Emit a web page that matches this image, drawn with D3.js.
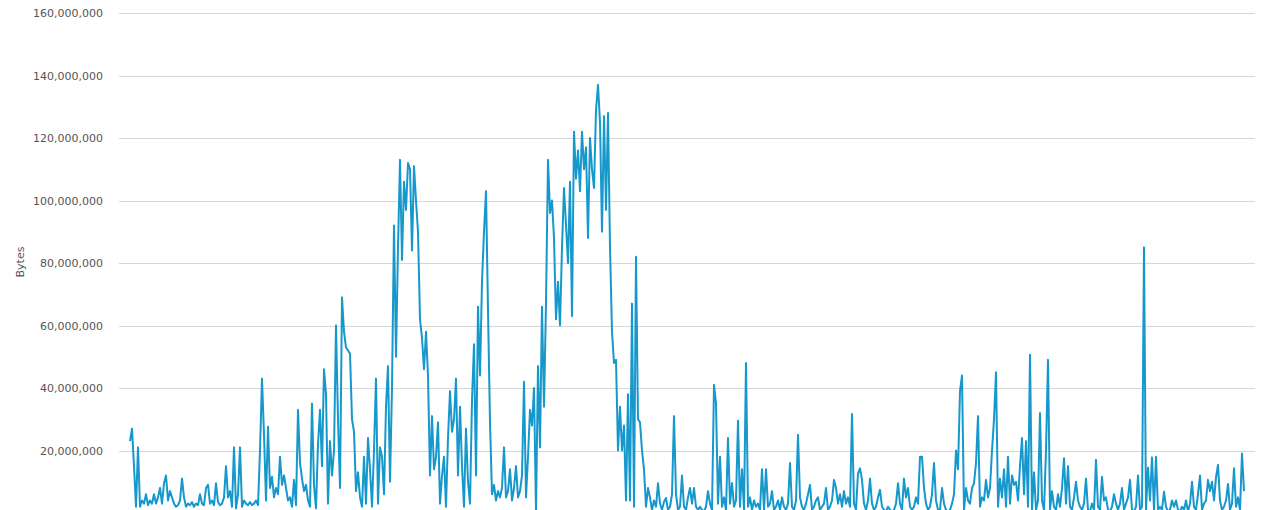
<!DOCTYPE html>
<html>
<head>
<meta charset="utf-8">
<script src="https://cdn.jsdelivr.net/npm/d3@7"></script>
<style>
  html, body { margin: 0; padding: 0; background: #ffffff; overflow: hidden; }
  svg { display: block; }
  .tick text { font-family: "DejaVu Sans", Verdana, sans-serif; font-size: 11px; fill: #555555; }
</style>
</head>
<body>
<svg id="chart" width="1261" height="510"></svg>
<script>
// Values in millions of bytes, evenly spaced samples
const unit = 1e6;
const bytesMillions = [
  // 130-158
  23,27,15,2,21,2,4,3,6,2.5,4,3,6,3,5,
  // 160-188
  8,3,9.5,12,4,7,5,3,2,2.5,4,11,5,2,3,
  // 190-218
  2.5,3.5,2,3,2.5,6,3,2.5,8,9,3,4,2.5,9.5,3.5,
  // 220-248
  2.5,3,5,15,5,7,2,21,1.5,6,21,2,4,3,2.5,
  // 250-278
  3.5,2.5,3,4,2.5,20,43,25,4,27.6,8,11.6,5,8,6,
  // 280-308
  18,9,12,8,4,5,2,10.6,2.5,33,16,11,7,9,4,
  // 310-338
  2,35,9,1.5,22,33,15,46,38,3,23,12,20,60,30,
  // 340-368
  8,69,58,53,52,51,30,26,7,13,5,2,18,3,24,
  // 370-398
  14,2,20,43,3,21,18,6,34,47,10,40,92,50,85,
  // 400-428
  113,81,106,97,112,110,84,111,100,90,62,56,46,58,44,
  // 430-458
  12,31,14,18,29,3,12,18,2,24,39,26,30,43,12,
  // 460-488
  34,15,2,27,10,3,36,54,12,66,44,74,90,103,65,
  // 490-518
  29,6,9,4,7,5,8,21,5,7,14,4,8,15,5,
  // 520-548
  7,12,42,5,18,33,28,40,0.5,47,21,66,34,67,113,
  // 550-578
  96,100,88,62,74,60,85,104,92,80,106,63,122,107,116,
  // 580-608
  103,122,110,117,88,120,110,104,129,137,125,90,127,97,128,
  // 610-638
  85,58,48,49,20,34,20,28,4,38,4,67,2,82,30,
  // 640-668
  29,20,14,2,8,5,1,4,2,9.5,3,1,3.6,4.8,1,
  // 670-698
  2,6,31,6,1,2,12,2,1,5,8,3,8,2,1,
  // 700-728
  2,1,0.5,2,7,3,1,41,35,3,18,2,5,1,24,
  // 730-758
  3,9.6,2,4,29.5,2,14,1,48,2,5,1,4,2,3,
  // 760-788
  1,14,1,14,2,3,7,1,2,4,1,5,2,1,3,
  // 790-818
  16,2,1,4,25,5,2,1,3,6,9,1,2,4,5,
  // 820-848
  1,2,3,8,1,2,4,10.6,8,3,6,2,7,3,5,
  // 850-878
  2,31.7,3,1,12.7,14.3,10.6,3,1,4,11,3,1,2,5,
  // 880-908
  7.4,2,1,0.5,2,1,0.5,1,3,9.5,3,1,11,5,8,
  // 910-938
  2,1,2,5,3,18,18,8,3,1,2,6,16,4,1,
  // 940-968
  1,8,3,1,0.5,1,3,6,20,14,39,44,1,8,4,
  // 970-998
  3,8,9.5,16,31,2,5,4,10.6,5,8,20,30,45,2,
  // 1000-1028
  11,5,14,2,18,3,12,9,10,4,15,24,6,23,2,
  // 1030-1058
  50.6,1,13,1,4,32,4,1,20,49,1,7,2,1,6,
  // 1060-1088
  2,8,17.5,3,15,2,1,5,10,4,2,1,3,11,1,
  // 1090-1118
  0.5,3,1,17,2,1,11.6,4,5,1,0.5,2,6,3,1,
  // 1120-1148
  3,8,1,3,5,10.6,1,0.5,2,12,1,2,85,1,14.5,
  // 1150-1178
  4,17.8,1,18,1,2,1,6.8,2,0.5,1,4,2,4,1,
  // 1180-1208
  0.5,2,1,4,0.5,3,10,2,1,6,12,1,3,4,10.6,
  // 1210-1244
  7,10,4,11.4,15.4,4,1,2,4,9.3,1,3,14.3,2,5,1,19,7
];
const yTicks = [20,40,60,80,100,120,140,160].map(v => v * unit);
const yAxisTitle = "Bytes";

const svg = d3.select("#chart");
const W = 1261, H = 510;
const plotLeft = 119, plotRight = 1255;
const lineStart = 130, lineEnd = 1244;

const x = d3.scaleLinear().domain([0, bytesMillions.length - 1]).range([lineStart, lineEnd]);
const y = d3.scaleLinear().domain([0, 160 * unit]).range([513, 13]);

// Gridlines
const gridAxis = d3.axisLeft(y).tickValues(yTicks).tickSize(-(plotRight - plotLeft)).tickFormat("");
svg.append("g")
  .attr("transform", `translate(${plotRight - (plotRight - plotLeft)},0)`)
  .call(g => {
    g.call(gridAxis);
    g.select(".domain").remove();
    g.selectAll(".tick line").attr("stroke", "#d6d6d6").attr("stroke-width", 1).attr("shape-rendering", "crispEdges");
  });

// Tick labels
const labelAxis = d3.axisLeft(y).tickValues(yTicks).tickSize(0).tickPadding(0)
  .tickFormat(d3.format(","));
svg.append("g")
  .attr("transform", "translate(103,0)")
  .call(g => {
    g.call(labelAxis);
    g.select(".domain").remove();
    g.selectAll(".tick text").attr("dy", "0.35em");
  });

// Axis title
svg.append("text")
  .attr("transform", "translate(24,262) rotate(-90)")
  .attr("text-anchor", "middle")
  .attr("font-family", "DejaVu Sans, Verdana, sans-serif")
  .attr("font-size", 11)
  .attr("fill", "#555555")
  .text(yAxisTitle);

// Line
const line = d3.line()
  .x((d, i) => x(i))
  .y(d => y(d * unit));

svg.append("path")
  .datum(bytesMillions)
  .attr("fill", "none")
  .attr("stroke", "#1798cc")
  .attr("stroke-width", 2)
  .attr("stroke-linejoin", "round")
  .attr("d", line);
</script>
</body>
</html>
